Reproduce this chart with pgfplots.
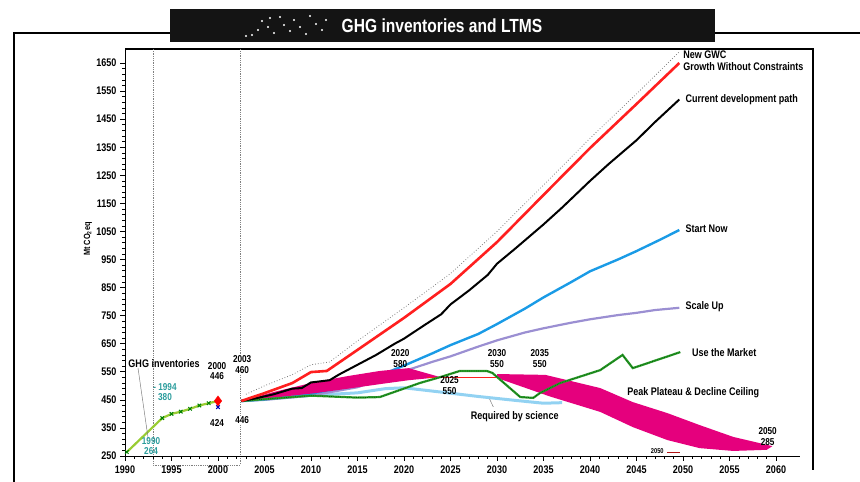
\documentclass[border=0pt]{standalone}
\usepackage{fontspec}
\setmainfont{Liberation Sans}[FakeStretch=0.82]
\usepackage{pgfplots}
\pgfplotsset{compat=1.18}

\definecolor{gwcred}{HTML}{FF1F1F}
\definecolor{startblue}{HTML}{1A9BE6}
\definecolor{scalepurple}{HTML}{9B8FD2}
\definecolor{marketgreen}{HTML}{2E9B2E}
\definecolor{ppdpink}{HTML}{E5007D}
\definecolor{sciblue}{HTML}{92D2F2}
\definecolor{invgreen}{HTML}{99CC33}
\definecolor{invteal}{HTML}{2A9C9C}

\tikzset{
  lab/.style={font=\bfseries\fontsize{11}{12}\selectfont},
  tlab/.style={font=\bfseries\fontsize{10}{10.5}\selectfont},
}

\begin{document}
\begin{tikzpicture}[x=1pt,y=1pt]
\useasboundingbox (0,0) rectangle (860,482);
% outer frame
\draw[line width=1.1pt] (14,0) -- (14,449) -- (860,449);
\draw[line width=1.1pt] (125,433) -- (813,433) -- (813,12);
% title bar
\fill[black!92] (170,440) rectangle (715,473);
\foreach \p in {(252,447),(258,452),(262,461),(268,455),(274,449),(280,465),(284,457),(290,451),(294,462),(300,455),(306,448),(310,466),(316,458),(322,452),(326,462),(246,446),(270,464)}
  \fill[white] \p circle (1.1);
\node[white, font=\bfseries\fontsize{19}{21}\selectfont] at (442,456.5) {GHG inventories and LTMS};
% inventory window
\draw[gray, densely dotted, line width=0.8pt] (153,433) -- (153,17) -- (240,17) -- (240,433);
% vertical axis title
\node[rotate=90, font=\bfseries\fontsize{9}{10}\selectfont] at (88,243) {Mt CO\textsubscript{2}eq};

\begin{axis}[
  at={(125pt,26pt)}, anchor=south west,
  scale only axis, width=675pt, height=407pt,
  xmin=1990, xmax=2062.58, ymin=250, ymax=1700,
  axis x line*=bottom, axis y line*=left,
  axis line style={-, line width=0.9pt},
  xtick={1990,1995,...,2060}, minor x tick num=4,
  ytick={250,350,...,1650}, minor y tick num=4,
  tick align=outside, major tick length=5pt, minor tick length=3pt,
  tick style={black, line width=0.6pt},
  ticklabel style={font=\bfseries\fontsize{11}{12}\selectfont},
  /pgf/number format/assume math mode=true,
  /pgf/number format/set thousands separator={},
  xticklabel style={yshift=-1pt},
  clip=false,
]

% Required by science
\addplot[sciblue, line width=3pt] coordinates {
 (2002.5,446) (2006,455) (2010,466) (2015,475) (2018,490) (2020,493)
 (2023.9,478) (2028,462) (2032,448) (2035,438) (2037,440)};

% Scale Up
\addplot[scalepurple, line width=2.2pt] coordinates {
 (2002.5,446) (2005,450) (2010,465) (2015,495) (2018,530) (2020,552)
 (2023,585) (2025,605) (2028,640) (2030,662) (2033,690) (2035,705)
 (2038,725) (2040,737) (2043,752) (2045,760) (2047,770) (2049.6,778)};

% Start Now
\addplot[startblue, line width=2.4pt] coordinates {
 (2002.5,446) (2005,452) (2008,462) (2010,472) (2012,485) (2015,505)
 (2018,545) (2020,572) (2023,615) (2025,645) (2028,685) (2030,720)
 (2033,775) (2035,815) (2038,870) (2040,908) (2043,950) (2045,980)
 (2047.5,1020) (2049.6,1055)};

% Peak, Plateau and Decline band
\addplot[fill=ppdpink, draw=none] coordinates {
 (2002.5,446) (2006,478) (2010.5,514) (2014,535) (2017.4,553) (2020.5,563)
 (2023.9,531)
 (2020.5,520) (2017.4,506) (2014,490) (2010.5,474) (2006,458) (2002.5,446)};
\addplot[fill=ppdpink, draw=none] coordinates {
 (2030,542) (2035.2,539) (2041.1,492) (2044.6,442) (2048.3,403)
 (2051.8,360) (2055.4,318) (2059,290) (2059.6,285)
 (2059,272) (2055.4,268) (2051.8,278) (2048.3,307) (2044.6,353)
 (2041.1,407) (2035.7,462) (2030,528) (2030,542)};
\addplot[gwcred, line width=1.2pt] coordinates {(2022.5,531) (2030,531)};

% Use the Market
\addplot[marketgreen, line width=2.2pt] coordinates {
 (2002.5,446) (2006,455) (2010,465) (2015,458) (2017.4,460) (2021.7,510)
 (2023.9,531) (2026,553) (2028.9,553) (2029.5,546) (2031,503) (2032.5,460)
 (2033.9,457) (2034.6,474) (2036.8,510) (2041.1,556) (2043.5,610)
 (2044.6,563) (2049.7,620)};
\addplot[black!60!green, densely dotted, line width=0.8pt] coordinates {
 (2002.5,446) (2006,455) (2010,465) (2015,458) (2017.4,460) (2021.7,510)
 (2023.9,531) (2026,553) (2028.9,553) (2029.5,546) (2031,503) (2032.5,460)
 (2033.9,457) (2034.6,474) (2036.8,510) (2041.1,556) (2043.5,610)
 (2044.6,563) (2049.7,620)};

% Current development path
\addplot[black, line width=2pt] coordinates {
 (2002.5,446) (2004,455) (2006,470) (2008,490) (2009,492) (2010,512)
 (2012,520) (2013,540) (2015,575) (2017,610) (2019,650) (2020,668)
 (2022,712) (2024,755) (2025,790) (2027,840) (2029,895) (2030,935)
 (2032,990) (2035,1075) (2037,1135) (2040,1230) (2042,1290) (2045,1375)
 (2047,1440) (2049.6,1520)};

% Growth Without Constraints
\addplot[gwcred, line width=2.6pt] coordinates {
 (2002.5,446) (2005,474) (2008,510) (2010,549) (2011.7,553) (2015,628)
 (2020,742) (2025,863) (2030,1012) (2035,1180) (2040,1347) (2045,1504)
 (2049.6,1650)};
\addplot[gray, dotted, line width=0.8pt] coordinates {
 (2003,470) (2005,500) (2008,540) (2010,575) (2012,585) (2015,660)
 (2020,778) (2025,900) (2030,1050) (2035,1215) (2040,1382) (2045,1540)
 (2049.6,1690)};

% GHG inventories
\addplot[invgreen, line width=2.2pt, mark=x, mark size=2.5pt,
  mark options={black!50!green, line width=1pt}] coordinates {
 (1990.2,264) (1994,385) (1995,400) (1996,408) (1997,418) (1998,430)
 (1999,438) (2000,446)};
\addplot[only marks, mark=diamond*, mark size=5pt, color=red] coordinates {(2000,446)};
\addplot[only marks, mark=x, mark size=2.5pt, color=blue!70!black, line width=1pt] coordinates {(2000,424)};
\addplot[gwcred!70!black, line width=1.6pt] coordinates {(2048.3,262) (2049.7,262)};

% annotations
\draw[gray, line width=0.5pt] (axis cs:1991.4,563) -- (axis cs:1992.5,310);
\draw[gray, line width=0.5pt] (axis cs:2029.2,453) -- (axis cs:2029.6,425);
\node[lab] at (axis cs:1994.2,578) {GHG inventories};
\node[tlab, invteal, align=center] at (axis cs:1994.3,478) {- 1994\\380};
\node[tlab, invteal, align=center] at (axis cs:1992.8,285) {1990\\264};
\node[tlab, align=center] at (axis cs:1999.9,552) {2000\\446};
\node[tlab] at (axis cs:1999.9,368) {424};
\node[tlab, align=center, fill=white, inner sep=1pt] at (axis cs:2002.6,575) {2003\\460};
\node[tlab, fill=white, inner sep=1pt] at (axis cs:2002.6,378) {446};
\node[tlab, align=center] at (axis cs:2019.6,597) {2020\\580};
\node[tlab, align=center] at (axis cs:2024.9,501) {2025\\550};
\node[tlab, align=center] at (axis cs:2030,597) {2030\\550};
\node[tlab, align=center] at (axis cs:2034.6,597) {2035\\550};
\node[lab] at (axis cs:2031.9,389) {Required by science};
\node[lab] at (axis cs:2051.1,474) {Peak Plateau \& Decline Ceiling};
\node[tlab, align=center] at (axis cs:2059.1,320) {2050\\285};
\node[font=\bfseries\fontsize{7}{8}\selectfont, anchor=east] at (axis cs:2048.3,268) {2050};
\node[lab, anchor=west, align=left, inner sep=1pt] at (axis cs:2049.9,1659) {New GWC\\Growth Without Constraints};
\node[lab, anchor=west] at (axis cs:2049.9,1518) {Current development path};
\node[lab, anchor=west] at (axis cs:2049.9,1059) {Start Now};
\node[lab, anchor=west] at (axis cs:2049.9,781) {Scale Up};
\node[lab, anchor=west] at (axis cs:2050.6,620) {Use the Market};
\end{axis}
\end{tikzpicture}
\end{document}
